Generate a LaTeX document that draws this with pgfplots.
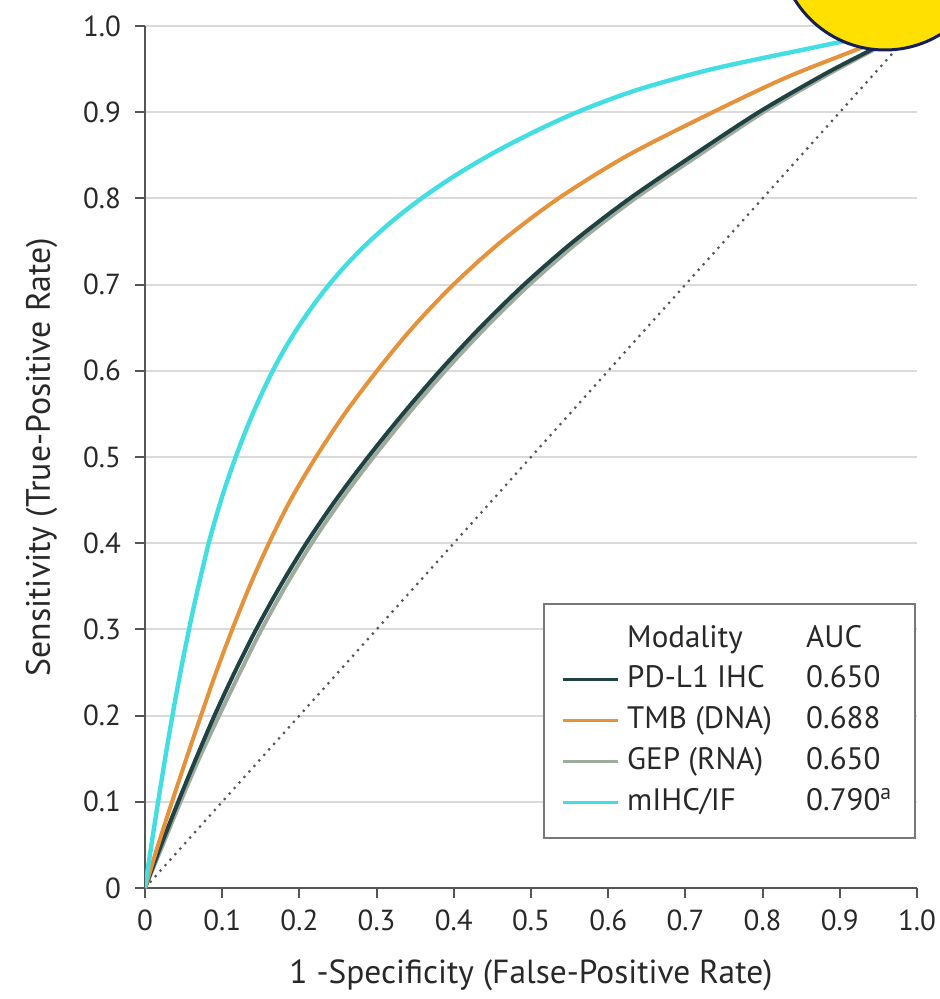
\documentclass[border=0pt]{standalone}
\usepackage{pgfplots}
\pgfplotsset{compat=1.18}
\usepackage{fontspec}
\setmainfont{PT Sans}
\definecolor{cyanc}{RGB}{66,222,226}
\definecolor{orangec}{RGB}{230,146,58}
\definecolor{darkc}{RGB}{32,66,66}
\definecolor{gepc}{RGB}{158,172,158}
\definecolor{axisgray}{RGB}{85,85,85}
\definecolor{gridgray}{RGB}{218,218,218}
\definecolor{labelgray}{RGB}{40,40,40}
\definecolor{legendgray}{RGB}{120,120,120}
\definecolor{circyellow}{RGB}{255,224,0}
\definecolor{circnavy}{RGB}{20,30,90}
\begin{document}
\begin{tikzpicture}
\useasboundingbox (0,0) rectangle (470pt,-499.5pt);
\begin{axis}[
  at={(72.5pt,-444pt)}, anchor=south west,
  scale only axis, width=386pt, height=431pt,
  xmin=0, xmax=1, ymin=0, ymax=1,
  axis lines=left,
  axis line style={-, draw=axisgray, line width=1pt},
  tick align=outside, major tick length=5pt,
  tick style={axisgray, line width=1pt},
  xtick={0,0.1,0.2,0.3,0.4,0.5,0.6,0.7,0.8,0.9,1},
  ytick={0,0.1,0.2,0.3,0.4,0.5,0.6,0.7,0.8,0.9,1},
  xticklabels={0,0.1,0.2,0.3,0.4,0.5,0.6,0.7,0.8,0.9,1.0},
  yticklabels={0,0.1,0.2,0.3,0.4,0.5,0.6,0.7,0.8,0.9,1.0},
  ticklabel style={font=\fontsize{14.5}{16}\selectfont, text=labelgray},
  xticklabel style={yshift=-2.5pt},
  yticklabel style={xshift=-3.5pt},
  ymajorgrids, grid style={gridgray, line width=1pt},
  xlabel={1 -Specificity (False-Positive Rate)},
  ylabel={Sensitivity (True-Positive Rate)},
  every axis x label/.style={at={(axis description cs:0.5,-0.101)}, anchor=center, font=\fontsize{16.7}{19}\selectfont, text=labelgray},
  every axis y label/.style={at={(axis description cs:-0.134,0.5)}, anchor=center, rotate=90, font=\fontsize{16.9}{19}\selectfont, text=labelgray},
  legend style={at={(0.999,0.331)}, anchor=north east, draw=legendgray, line width=1pt,
    font=\fontsize{15.5}{17}\selectfont, text=labelgray, inner xsep=8.5pt, inner ysep=7.5pt,
    nodes={text height=11.5pt, text depth=3.5pt, inner ysep=2.7pt}},
  legend cell align=left,
  legend image code/.code={\draw[#1, line width=1.6pt] (0pt,0pt) -- (27.5pt,0pt); \path (29pt,0pt);},
]
\addlegendimage{empty legend}
\addlegendentry{\makebox[89.5pt][l]{Modality}\makebox[44pt][l]{AUC}}

\addplot[axisgray, dash pattern=on 1.1pt off 2.6pt, line width=1.1pt, forget plot] coordinates {(0,0) (1,1)};

\addplot[gepc, line width=2pt, smooth, forget plot] coordinates {
(0,0) (0.023,0.05) (0.046,0.1) (0.070,0.15) (0.096,0.2) (0.123,0.25) (0.151,0.3) (0.182,0.35) (0.216,0.4) (0.254,0.45) (0.296,0.5) (0.341,0.55) (0.389,0.6) (0.441,0.65) (0.498,0.7) (0.562,0.75) (0.635,0.8) (0.717,0.85) (0.801,0.9) (0.885,0.944) (0.943,0.972) (1,1)};

\addplot[darkc, line width=2pt, smooth] coordinates {
(0,0) (0.021,0.05) (0.043,0.1) (0.066,0.15) (0.09,0.2) (0.116,0.25) (0.144,0.3) (0.175,0.35) (0.209,0.4) (0.247,0.45) (0.289,0.5) (0.334,0.55) (0.382,0.6) (0.434,0.65) (0.491,0.7) (0.555,0.75) (0.628,0.8) (0.71,0.85) (0.795,0.9) (0.88,0.944) (0.94,0.972) (1,1)};
\addlegendentry{\makebox[89.5pt][l]{PD-L1 IHC}\makebox[44pt][l]{0.650}}

\addplot[orangec, line width=2pt, smooth] coordinates {
(0,0) (0.017,0.05) (0.035,0.1) (0.0535,0.15) (0.0725,0.2) (0.092,0.25) (0.113,0.3) (0.1355,0.35) (0.1605,0.4) (0.1885,0.45) (0.2215,0.5) (0.2585,0.55) (0.3005,0.6) (0.3465,0.65) (0.3995,0.7) (0.4615,0.75) (0.5355,0.8) (0.6255,0.85) (0.7355,0.9) (0.83,0.94) (0.92,0.972) (1,1)};
\addlegendentry{\makebox[89.5pt][l]{TMB (DNA)}\makebox[44pt][l]{0.688}}

\addlegendimage{gepc, line width=2pt}
\addlegendentry{\makebox[89.5pt][l]{GEP (RNA)}\makebox[44pt][l]{0.650}}

\addplot[cyanc, line width=2.2pt, smooth] coordinates {
(0,0) (0.0083,0.05) (0.017,0.1) (0.026,0.15) (0.0355,0.2) (0.0458,0.25) (0.057,0.3) (0.0629,0.325) (0.0692,0.35) (0.0757,0.375) (0.0825,0.4) (0.0902,0.425) (0.0985,0.45) (0.1076,0.475) (0.1175,0.5) (0.1281,0.525) (0.1395,0.55) (0.152,0.575) (0.1655,0.6) (0.1807,0.625) (0.1979,0.65) (0.2171,0.675) (0.2385,0.7) (0.2628,0.725) (0.2905,0.75) (0.3221,0.775) (0.3581,0.8) (0.3991,0.825) (0.4458,0.85) (0.499,0.875) (0.5596,0.9) (0.6346,0.925) (0.7346,0.95) (0.866,0.975) (1,1)};
\addlegendentry{\makebox[89.5pt][l]{mIHC/IF}\makebox[44pt][l]{0.790\textsuperscript{a}}}
\end{axis}
\begin{scope}
\clip (0,0) rectangle (470pt,-499.5pt);
\filldraw[fill=circyellow, draw=circnavy, line width=1.5pt] (442.5pt,28pt) circle (53pt);
\end{scope}
\end{tikzpicture}
\end{document}
